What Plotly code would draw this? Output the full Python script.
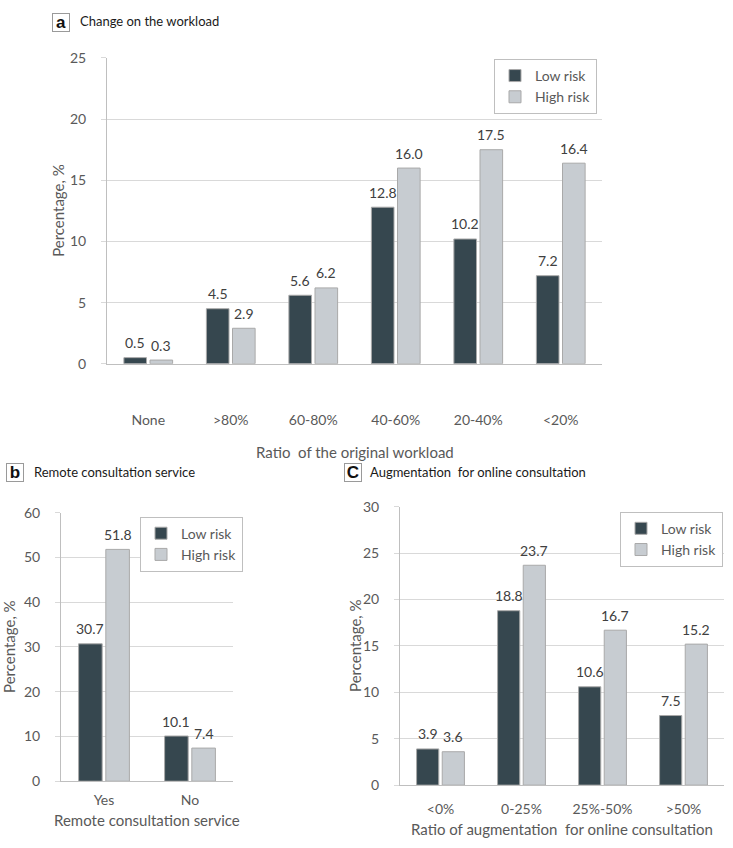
import plotly.graph_objects as go

# ---------------- data ----------------
cats_a = ["None", ">80%", "60-80%", "40-60%", "20-40%", "<20%"]
low_a = [0.5, 4.5, 5.6, 12.8, 10.2, 7.2]
high_a = [0.3, 2.9, 6.2, 16.0, 17.5, 16.4]

cats_b = ["Yes", "No"]
low_b = [30.7, 10.1]
high_b = [51.8, 7.4]

cats_c = ["<0%", "0-25%", "25%-50%", ">50%"]
low_c = [3.9, 18.8, 10.6, 7.5]
high_c = [3.6, 23.7, 16.7, 15.2]

series_names = ["Low risk", "High risk"]

# ---------------- style ----------------
W, H = 733, 848
FONT = "Lato, 'Open Sans', sans-serif"
DARK = "#36474f"
LIGHT = "#c7ccd1"
EDGE = "#a9a9a9"
GRID = "#d9d9d9"
AXL = "#bfbfbf"
TXT = "#595959"
LBL = "#404040"
BARGAP = 0.367
BARGROUPGAP = 0.134


def px(x):
    return x / W


def py(y):
    return 1 - y / H


# panel geometry (pixels): x0, x1, ytop, ybottom
geo = {
    "a": (107, 602, 50, 362),
    "b": (61, 233, 514, 788),
    "c": (400, 724, 508, 792),
}

fig = go.Figure()
annotations = []

panels = [
    ("a", "x", "y", cats_a, low_a, high_a, "legend"),
    ("b", "x2", "y2", cats_b, low_b, high_b, "legend2"),
    ("c", "x3", "y3", cats_c, low_c, high_c, "legend3"),
]

for key, xa, ya, cats, lo, hi, lg in panels:
    x0, x1, _, _ = geo[key]
    cat_px = (x1 - x0) / len(cats)
    slot = (1 - BARGAP) * cat_px / 2
    for k, (name, vals, col) in enumerate([(series_names[0], lo, DARK),
                                           (series_names[1], hi, LIGHT)]):
        fig.add_trace(go.Bar(
            x=cats, y=vals, name=name, xaxis=xa, yaxis=ya, legend=lg,
            marker=dict(color=col, line=dict(color=EDGE, width=1)),
            hoverinfo="skip",
        ))
        shift = (-0.5 if k == 0 else 0.5) * slot
        for c, v in zip(cats, vals):
            annotations.append(dict(
                x=c, y=v, xref=xa, yref=ya, text="%.1f" % v, showarrow=False,
                xanchor="center", yanchor="middle", xshift=shift, yshift=15,
                font=dict(family=FONT, size=14, color=LBL)))

common_x = dict(showline=True, linecolor=AXL, linewidth=1, ticks="",
                showgrid=False, tickfont=dict(family=FONT, size=14, color=TXT),
                fixedrange=True)
common_y = dict(showline=True, linecolor=AXL, linewidth=1, ticks="outside",
                ticklen=5, tickcolor=GRID, showgrid=True, gridcolor=GRID,
                gridwidth=1, zeroline=False,
                tickfont=dict(family=FONT, size=14, color=TXT),
                ticklabelstandoff=12, fixedrange=True)

legend_common = dict(bgcolor="white", bordercolor=AXL, borderwidth=1,
                     font=dict(family=FONT, size=14, color=TXT),
                     xanchor="right", yanchor="top", itemwidth=30,
                     tracegroupgap=0)

ga, gb, gc = geo["a"], geo["b"], geo["c"]
fig.update_layout(
    width=W, height=H, autosize=False,
    margin=dict(l=0, r=0, t=0, b=0),
    paper_bgcolor="white", plot_bgcolor="white",
    barmode="group", bargap=BARGAP, bargroupgap=BARGROUPGAP,
    font=dict(family=FONT, color=TXT),
    xaxis=dict(domain=[px(ga[0]), px(ga[1])], anchor="y", ticklabelstandoff=43, **common_x),
    yaxis=dict(domain=[py(ga[3]), py(ga[2])], anchor="x", range=[0, 25], dtick=5, **common_y),
    xaxis2=dict(domain=[px(gb[0]), px(gb[1])], anchor="y2", ticklabelstandoff=6, **common_x),
    yaxis2=dict(domain=[py(gb[3]), py(gb[2])], anchor="x2", range=[0, 60], dtick=10, **common_y),
    xaxis3=dict(domain=[px(gc[0]), px(gc[1])], anchor="y3", ticklabelstandoff=11, **common_x),
    yaxis3=dict(domain=[py(gc[3]), py(gc[2])], anchor="x3", range=[0, 30], dtick=5, **common_y),
    legend=dict(x=px(597), y=py(51), **legend_common),
    legend2=dict(x=px(243), y=py(518), **legend_common),
    legend3=dict(x=px(723), y=py(513), **legend_common),
    showlegend=True,
)


def add_text(text, x, y, size=15, color=TXT, xanchor="center", angle=0, **kw):
    annotations.append(dict(text=text, x=px(x), y=py(y), xref="paper", yref="paper",
                            showarrow=False, xanchor=xanchor, yanchor="middle",
                            textangle=angle,
                            font=dict(family=FONT, size=size, color=color), **kw))


# panel letters
for letter, cx, cy in [("a", 61, 13.5), ("b", 15, 472.5), ("C", 352.5, 472.5)]:
    annotations.append(dict(text="<b>%s</b>" % letter, x=px(cx), y=py(cy),
                            xref="paper", yref="paper", showarrow=False,
                            xanchor="center", yanchor="middle",
                            font=dict(family="Liberation Sans, Arial", size=17, color="#111111"),
                            bordercolor="#9a9a9a", borderwidth=1, borderpad=0,
                            bgcolor="white", width=16, height=17))

# panel titles
add_text("Change on the workload", 78, 12.5, size=13, color="#1a1a1a", xanchor="left")
add_text("Remote consultation service", 32, 472.5, size=13, color="#1a1a1a", xanchor="left")
add_text("Augmentation\u00a0 for online consultation", 368, 472.5, size=13, color="#1a1a1a", xanchor="left")

# axis titles
add_text("Ratio\u00a0 of the original workload", 354.5, 452, size=15)
add_text("Remote consultation service", 147, 828, size=15)
add_text("Ratio of augmentation\u00a0 for online consultation", 562, 837, size=15)
add_text("Percentage, %", 58, 206, size=15, angle=-90)
add_text("Percentage, %", 9, 651, size=15, angle=-90)
add_text("Percentage, %", 355, 650, size=15, angle=-90)

fig.update_layout(annotations=annotations)

fig.write_html("out.html", config={"displayModeBar": False},
               post_script="document.body.style.margin='0';document.body.style.overflow='hidden';")
